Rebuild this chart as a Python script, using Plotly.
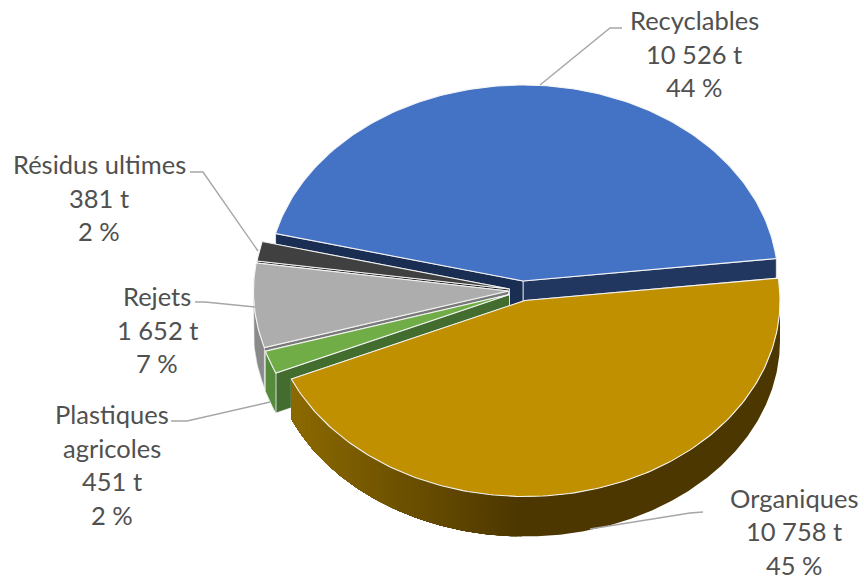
import math
import plotly.graph_objects as go

# --- data ---
categories = ["Recyclables", "Organiques", "Plastiques agricoles", "Rejets", "Résidus ultimes"]
tonnes = [10526, 10758, 451, 1652, 381]

# --- presentation ---
label_lines = [["Recyclables"], ["Organiques"], ["Plastiques", "agricoles"], ["Rejets"], ["Résidus ultimes"]]
top_colors = ["#4472C4", "#C09000", "#70AD47", "#ADADAD", "#404040"]
outer_colors = ["#21375F", "#4D3700", "#568A3C", "#8A8A8A", "#2A2A2A"]
start_edge_colors = ["#21375F", "#4D3700", "#436D2F", "#7A7A7A", "#1E1E1E"]
end_edge_colors = ["#1A2D52", "#4D3700", "#436D2F", "#7A7A7A", "#1E1E1E"]
centers = [(523, 281), (525, 300.5), (509.5, 294.5), (508.5, 291), (509.5, 289)]
paint_order = [0, 4, 3, 2, 1]
label_anchor = [(694, 20), (794, 497.5), (112, 414), (157, 296), (99, 164)]
leaders = [
    [(622, 28), (610, 28), (540, 85)],
    [(703, 512), (690, 513), (590, 529)],
    [(171, 421), (187, 421), (270, 402)],
    [(195, 302), (205, 302), (255, 307)],
    [(190, 172), (203, 172), (258, 251)],
]
START_ANGLE = 284.0
RX, RY, DEPTH = 255.0, 196.0, 40.0
LINE_STEP = 33.6
TEXT_COLOR = "#505050"
LEADER_COLOR = "#A6A6A6"

total = sum(tonnes)
spans = [v / total * 360 for v in tonnes]
starts = []
a = START_ANGLE
for s in spans:
    starts.append(a)
    a += s


def rim(center, angle, drop=0.0):
    t = math.radians(angle)
    return center[0] + RX * math.sin(t), center[1] - RY * math.cos(t) + drop


def arc(center, a0, a1, drop=0.0, step=1.0):
    n = max(2, int(abs(a1 - a0) / step) + 1)
    return [rim(center, a0 + (a1 - a0) * i / (n - 1), drop) for i in range(n)]


def polygon(fig, pts, fill, line=None, width=1.0):
    xs = [p[0] for p in pts] + [pts[0][0]]
    ys = [p[1] for p in pts] + [pts[0][1]]
    fig.add_trace(go.Scatter(
        x=xs, y=ys, mode="lines", fill="toself", fillcolor=fill,
        line=dict(color=line or fill, width=width), hoverinfo="skip", showlegend=False,
    ))


def mix(c0, c1, t):
    vals = [int(c0[i:i + 2], 16) * (1 - t) + int(c1[i:i + 2], 16) * t for i in (1, 3, 5)]
    return "#%02X%02X%02X" % tuple(round(v) for v in vals)


def visible_range(a0, a1):
    """Part of the outer rim that faces the viewer: bearing between 90 and 270."""
    lo = max(a0, 90.0)
    hi = min(a1, 270.0)
    return (lo, hi) if hi > lo else None


fig = go.Figure()

for idx in paint_order:
    c = centers[idx]
    a0 = starts[idx] % 360
    a1 = a0 + spans[idx]
    # flat faces left by the explosion
    for ang, col in ((a1, start_edge_colors[idx]), (a0, end_edge_colors[idx])):
        polygon(fig, [c, rim(c, ang), rim(c, ang, DEPTH), (c[0], c[1] + DEPTH)], col, "#F2F2F2", 0.8)
    # outer wall
    ranges = visible_range(a0, a1)
    if ranges:
        lo, hi = ranges
        if idx == 1:
            # solid shaded base, then gradient bands only over the lit left part of the wall
            polygon(fig, arc(c, lo, hi, 0, 0.5) + arc(c, hi, lo, DEPTH, 0.5), "#4D3700", None, 0)
            n = 150
            for i in range(n):
                b0 = lo + (hi - lo) * i / n
                x = rim(c, b0)[0]
                if x > 525:
                    continue
                pts = arc(c, b0, hi, 0, 0.5) + arc(c, hi, b0, DEPTH, 0.5)
                t = min(1.0, max(0.0, (x - 291) / 230))
                polygon(fig, pts, mix("#8C6A00", "#4D3700", t), None, 0)
        else:
            pts = arc(c, lo, hi) + arc(c, hi, lo, DEPTH)
            polygon(fig, pts, outer_colors[idx], "#E8E8E8", 0.6)
    # top face
    polygon(fig, [c] + arc(c, a0, a1), top_colors[idx], "#F4F4F4", 1.1)

for path in leaders:
    fig.add_trace(go.Scatter(
        x=[p[0] for p in path], y=[p[1] for p in path], mode="lines",
        line=dict(color=LEADER_COLOR, width=1.4), hoverinfo="skip", showlegend=False,
    ))

annotations = []
for idx, name in enumerate(categories):
    lines = label_lines[idx] + [
        f"{tonnes[idx]:,}".replace(",", " ") + " t",
        f"{round(tonnes[idx] / total * 100)} %",
    ]
    x0, y0 = label_anchor[idx]
    for k, text in enumerate(lines):
        annotations.append(dict(
            x=x0, y=y0 + k * LINE_STEP, xref="x", yref="y", text=text, showarrow=False,
            xanchor="center", yanchor="middle",
            font=dict(family="Lato", size=25.5, color=TEXT_COLOR),
        ))

fig.update_layout(
    width=864, height=580, margin=dict(l=0, r=0, t=0, b=0),
    paper_bgcolor="white", plot_bgcolor="white", showlegend=False,
    xaxis=dict(range=[0, 864], visible=False, fixedrange=True),
    yaxis=dict(range=[580, 0], visible=False, fixedrange=True),
    annotations=annotations,
)
fig.write_html(
    "out.html", config=dict(displayModeBar=False),
    post_script="document.body.style.margin='0';document.documentElement.style.overflow='hidden';",
)
